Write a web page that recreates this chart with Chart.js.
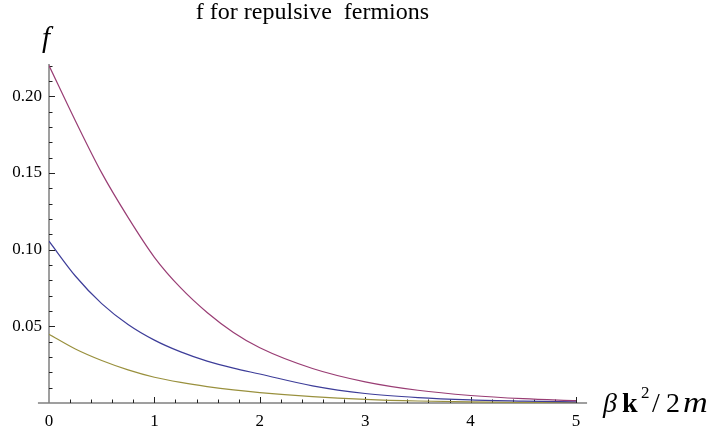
<!DOCTYPE html>
<html>
<head>
<meta charset="utf-8">
<script src="https://cdn.jsdelivr.net/npm/chart.js@4"></script>
<style>
  body { margin: 0; background: #fff; }
  #wrap { width: 720px; height: 430px; }
</style>
</head>
<body>
<div id="wrap"><canvas id="chart"></canvas></div>
<script>
// values
const xs = [0, 0.25, 0.5, 0.75, 1, 1.25, 1.5, 1.75, 2, 2.5, 3, 3.5, 4, 4.5, 5];
const purpleF = [0.220, 0.184, 0.150, 0.121, 0.095, 0.075, 0.059, 0.046, 0.036, 0.0225, 0.0138, 0.0083, 0.0049, 0.0028, 0.0015];
const blueF = [0.1055, 0.0828, 0.0648, 0.0512, 0.041, 0.0333, 0.0273, 0.0227, 0.0189, 0.0112, 0.0062, 0.0035, 0.002, 0.0012, 0.0007];
const oliveF = [0.0448, 0.0352, 0.0277, 0.0216, 0.0168, 0.0134, 0.0107, 0.0085, 0.0068, 0.0042, 0.0024, 0.0013, 0.0007, 0.0004, 0.0002];

const xTickLabels = ['0', '1', '2', '3', '4', '5'];
const yTickLabels = ['0.05', '0.10', '0.15', '0.20'];

const serif = '"Liberation Serif", "DejaVu Serif", serif';

function pts(ys) {
  return xs.map((x, i) => ({ x, y: ys[i] }));
}

function line(data, color) {
  return {
    data: pts(data), borderColor: color, borderWidth: 1.2,
    pointRadius: 0, cubicInterpolationMode: 'monotone', fill: false
  };
}

// Mathematica-style axes through the origin, ticks pointing inward
const axesPlugin = {
  id: 'axes',
  beforeDatasetsDraw(chart) {
    const { ctx } = chart;
    const sx = chart.scales.x, sy = chart.scales.y;
    const x0 = sx.getPixelForValue(0), y0 = sy.getPixelForValue(0);
    ctx.save();
    ctx.strokeStyle = '#808080';
    ctx.lineWidth = 1.5;
    ctx.beginPath();
    ctx.moveTo(sx.getPixelForValue(-0.105), y0);
    ctx.lineTo(sx.getPixelForValue(5.105), y0);
    ctx.moveTo(x0, y0);
    ctx.lineTo(x0, sy.getPixelForValue(0.221));
    ctx.stroke();

    ctx.strokeStyle = '#222';
    ctx.lineWidth = 1;
    ctx.beginPath();
    for (let i = 1; i <= 25; i++) {
      const px = Math.round(sx.getPixelForValue(i / 5)) + 0.5;
      const len = i % 5 === 0 ? 6 : 3.5;
      ctx.moveTo(px, y0);
      ctx.lineTo(px, y0 - len);
    }
    for (let i = 1; i <= 22; i++) {
      const py = Math.round(sy.getPixelForValue(i / 100)) + 0.5;
      const len = i % 5 === 0 ? 6 : 3.5;
      ctx.moveTo(x0, py);
      ctx.lineTo(x0 + len, py);
    }
    ctx.stroke();

    ctx.fillStyle = '#000';
    ctx.font = '17px ' + serif;
    ctx.textAlign = 'center';
    ctx.textBaseline = 'middle';
    xTickLabels.forEach(t => {
      ctx.fillText(t, sx.getPixelForValue(+t), y0 + 19);
    });
    ctx.textAlign = 'right';
    yTickLabels.forEach(t => {
      ctx.fillText(t, x0 - 7, sy.getPixelForValue(+t));
    });

    // axis labels
    ctx.textAlign = 'left';
    ctx.textBaseline = 'alphabetic';
    ctx.font = 'italic 29px ' + serif;
    ctx.fillText('f', 42, 47);

    const ly = 412;
    ctx.font = 'italic 28px ' + serif;
    ctx.fillText('β', 603, ly);
    ctx.font = 'bold 28px ' + serif;
    ctx.fillText('k', 622, ly);
    ctx.font = '17px ' + serif;
    ctx.fillText('2', 641, ly - 14);
    ctx.font = '28px ' + serif;
    ctx.fillText('/', 652, ly);
    ctx.fillText('2', 666, ly);
    ctx.font = 'italic 29px ' + serif;
    ctx.save();
    ctx.translate(683, ly);
    ctx.scale(1.18, 1);
    ctx.fillText('m', 0, 0);
    ctx.restore();
    ctx.restore();
  }
};

new Chart(document.getElementById('chart'), {
  type: 'line',
  data: {
    datasets: [
      line(purpleF, '#993d74'),
      line(blueF, '#3d3d99'),
      line(oliveF, '#99903d')
    ]
  },
  options: {
    responsive: true,
    maintainAspectRatio: false,
    animation: false,
    layout: { padding: { left: 49, right: 144, top: 0, bottom: 27 } },
    plugins: {
      legend: { display: false },
      tooltip: { enabled: false },
      title: {
        display: true,
        text: 'f for repulsive  fermions',
        color: '#000',
        font: { family: serif, size: 24, weight: 'normal', lineHeight: 1.1 },
        padding: { top: 0, bottom: 37.6 }
      }
    },
    scales: {
      x: { type: 'linear', min: 0, max: 5, display: false },
      y: { min: 0, max: 0.221, display: false }
    }
  },
  plugins: [axesPlugin]
});
</script>
</body>
</html>
